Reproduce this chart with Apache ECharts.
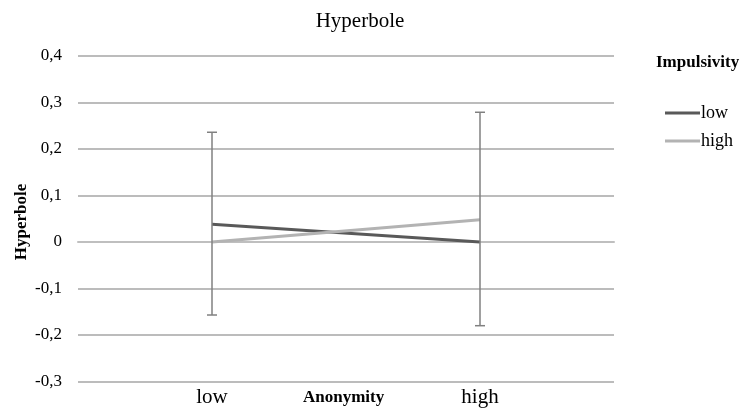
<!DOCTYPE html>
<html>
<head>
<meta charset="utf-8">
<script src="https://cdn.jsdelivr.net/npm/echarts@6/dist/echarts.min.js"></script>
<style>html,body{margin:0;padding:0;background:#fff}#c{width:742px;height:408px}</style>
</head>
<body>
<div id="c"></div>
<script>
var categories = ['low', 'high'];
var seriesNames = ['low', 'high'];
var lowImpulsivity = [0.038, 0];
var highImpulsivity = [0, 0.048];
// error bars: [categoryIndex, lower, upper]
var errorBars = [[0, -0.157, 0.236], [1, -0.18, 0.279]];
var yTicks = { min: -0.3, max: 0.4, interval: 0.1 };

var FONT = '"Liberation Serif", "Times New Roman", serif';
var chart = echarts.init(document.getElementById('c'), null, { renderer: 'canvas' });
chart.setOption({
  animation: false,
  backgroundColor: '#fff',
  title: {
    text: 'Hyperbole', left: 355, top: 6, textAlign: 'center',
    textStyle: { fontFamily: FONT, fontSize: 21, fontWeight: 'normal', color: '#000' }
  },
  grid: { left: 78, right: 128, top: 56, bottom: 26.5, containLabel: false, outerBoundsMode: 'none' },
  legend: {
    orient: 'vertical', left: 660, top: 99, itemWidth: 35, itemHeight: 3, icon: 'rect',
    itemGap: 10,
    textStyle: { fontFamily: FONT, fontSize: 18, color: '#000', padding: [0, 0, 0, -4] },
    data: seriesNames
  },
  graphic: [{
    type: 'text', left: 656, top: 54,
    style: { text: 'Impulsivity', fontFamily: FONT, fontSize: 17, fontWeight: 'bold', fill: '#000' }
  }, {
    type: 'text', left: 303, top: 389,
    style: { text: 'Anonymity', fontFamily: FONT, fontSize: 17, fontWeight: 'bold', fill: '#000' }
  }, {
    type: 'text', x: 22, y: 222, rotation: Math.PI / 2,
    style: { text: 'Hyperbole', fontFamily: FONT, fontSize: 17, fontWeight: 'bold', fill: '#000', align: 'center', verticalAlign: 'middle' }
  }],
  xAxis: {
    type: 'category', data: categories, boundaryGap: true,
    axisLine: { lineStyle: { color: '#bfbfbf', width: 2 } },
    axisTick: { show: false },
    axisLabel: { fontFamily: FONT, fontSize: 21, color: '#000', margin: 5 },
    splitLine: { show: false }
  },
  yAxis: {
    type: 'value', min: yTicks.min, max: yTicks.max, interval: yTicks.interval,
    axisLine: { show: false }, axisTick: { show: false },
    axisLabel: {
      fontFamily: FONT, fontSize: 17, color: '#000', margin: 16,
      formatter: function (v) { var r = Math.round(v * 10) / 10; return r === 0 ? '0' : r.toFixed(1).replace('.', ','); }
    },
    splitLine: { lineStyle: { color: '#a6a6a6', width: 1.5 } }
  },
  series: [
    {
      name: seriesNames[0], type: 'line', data: lowImpulsivity, symbol: 'none',
      lineStyle: { color: '#595959', width: 3 }, itemStyle: { color: '#595959' }, z: 3
    },
    {
      name: seriesNames[1], type: 'line', data: highImpulsivity, symbol: 'none',
      lineStyle: { color: '#b3b3b3', width: 3 }, itemStyle: { color: '#b3b3b3' }, z: 3
    },
    {
      type: 'custom', name: 'err', data: errorBars, z: 4,
      renderItem: function (params, api) {
        var x = api.value(0);
        var lo = api.coord([x, api.value(1)]);
        var hi = api.coord([x, api.value(2)]);
        var w = 5;
        var st = { stroke: '#808080', lineWidth: 1.5 };
        return {
          type: 'group', children: [
            { type: 'line', shape: { x1: lo[0], y1: lo[1], x2: hi[0], y2: hi[1] }, style: st },
            { type: 'line', shape: { x1: lo[0] - w, y1: lo[1], x2: lo[0] + w, y2: lo[1] }, style: st },
            { type: 'line', shape: { x1: hi[0] - w, y1: hi[1], x2: hi[0] + w, y2: hi[1] }, style: st }
          ]
        };
      }
    }
  ]
});
</script>
</body>
</html>
